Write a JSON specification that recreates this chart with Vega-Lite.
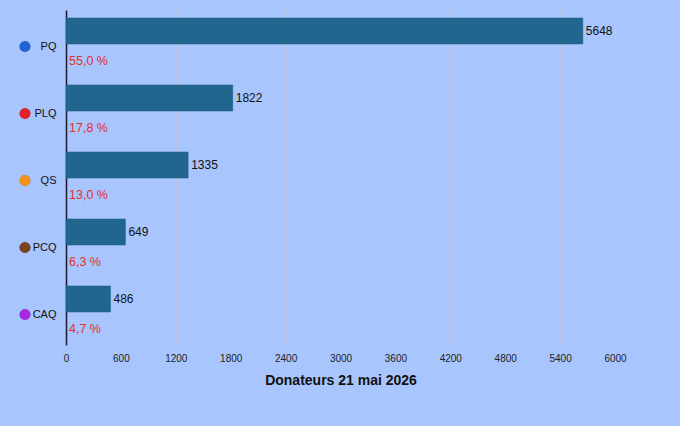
{
  "$schema": "https://vega.github.io/schema/vega-lite/v6.json",
  "autosize": "none",
  "width": 549,
  "height": 335,
  "padding": {"left": 66, "top": 10, "right": 65, "bottom": 81},
  "background": "#a9c5fd",
  "config": {
    "view": {"stroke": null},
    "font": "Liberation Sans"
  },
  "data": {
    "values": [
      {"parti": "PQ", "donateurs": 5648, "pct": "55,0 %", "couleur": "#1f63d8"},
      {"parti": "PLQ", "donateurs": 1822, "pct": "17,8 %", "couleur": "#e3202a"},
      {"parti": "QS", "donateurs": 1335, "pct": "13,0 %", "couleur": "#f4931c"},
      {"parti": "PCQ", "donateurs": 649, "pct": "6,3 %", "couleur": "#7a4420"},
      {"parti": "CAQ", "donateurs": 486, "pct": "4,7 %", "couleur": "#a628e6"}
    ]
  },
  "encoding": {
    "y": {
      "field": "parti",
      "type": "nominal",
      "sort": ["PQ", "PLQ", "QS", "PCQ", "CAQ"],
      "scale": {"paddingInner": 0, "paddingOuter": 0},
      "axis": {
        "title": null,
        "ticks": false,
        "domainColor": "#1a1a2a",
        "domainWidth": 1.5,
        "labelColor": "#111111",
        "labelFontSize": 11,
        "labelPadding": 10,
        "labelOffset": 3,
        "grid": false
      }
    }
  },
  "layer": [
    {
      "mark": {"type": "bar", "height": 26, "yOffset": -12.5, "color": "#20668f", "stroke": "#1a5a80", "strokeWidth": 0.5},
      "encoding": {
        "x": {
          "field": "donateurs",
          "type": "quantitative",
          "scale": {"domain": [0, 6000], "nice": false},
          "axis": {
            "values": [0, 600, 1200, 1800, 2400, 3000, 3600, 4200, 4800, 5400, 6000],
            "format": "d",
            "labelFlush": false,
            "title": "Donateurs 21 mai 2026",
            "titleFontSize": 14,
            "titleFontWeight": "bold",
            "titleColor": "#111111",
            "titlePadding": 10,
            "labelFontSize": 10,
            "labelColor": "#222222",
            "labelPadding": 8,
            "ticks": false,
            "domain": false,
            "grid": true,
            "gridColor": "#bfc6e4",
            "gridWidth": 1
          }
        }
      }
    },
    {
      "mark": {"type": "text", "align": "left", "baseline": "middle", "dx": 3, "yOffset": -12.5, "fontSize": 12, "color": "#111111"},
      "encoding": {
        "x": {"field": "donateurs", "type": "quantitative"},
        "text": {"field": "donateurs", "type": "quantitative", "format": "d"}
      }
    },
    {
      "mark": {"type": "text", "align": "left", "baseline": "middle", "dx": 3, "yOffset": 17.5, "fontSize": 12.5, "color": "#e0312b"},
      "encoding": {
        "x": {"datum": 0, "type": "quantitative"},
        "text": {"field": "pct", "type": "nominal"}
      }
    },
    {
      "mark": {"type": "point", "shape": "circle", "filled": true, "size": 120, "xOffset": -41, "yOffset": 3, "opacity": 1, "stroke": "#333333", "strokeOpacity": 0.25, "strokeWidth": 0.5},
      "encoding": {
        "x": {"datum": 0, "type": "quantitative"},
        "fill": {"field": "couleur", "type": "nominal", "scale": null}
      }
    }
  ]
}
